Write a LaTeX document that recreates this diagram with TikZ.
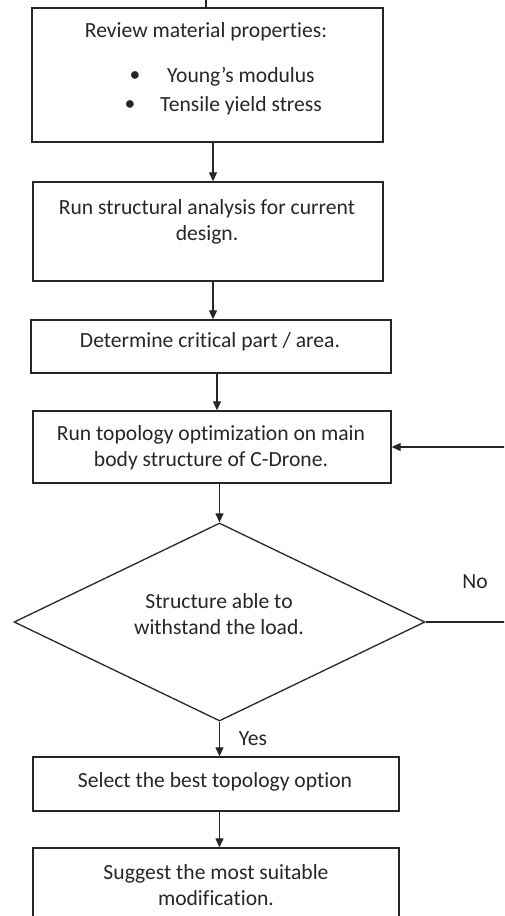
\documentclass[tikz,border=0pt]{standalone}
\usepackage{fontspec}
\setmainfont{Carlito}[Ligatures=NoCommon]
\usetikzlibrary{arrows.meta,shapes.geometric}
\begin{document}
\begin{tikzpicture}[x=1pt,y=-1pt,
  box/.style={draw=black!85,line width=1.4pt,rectangle,inner sep=0pt},
  dia/.style={draw=black!85,line width=1.3pt,diamond,inner sep=0pt,aspect=2.07},
  txt/.style={text=black!85,font=\fontsize{21.6}{26}\selectfont,align=center,inner sep=0pt},
  arr/.style={draw=black!85,line width=1.3pt,-{Triangle[length=9pt,width=8pt]}},
  ln/.style={draw=black!85,line width=1.3pt}]
\useasboundingbox (0,0) rectangle (504,916);
\clip (0,0) rectangle (504,916);
% boxes
\node[box,minimum width=351pt,minimum height=134pt] (b1) at (207.5,75) {};
\node[box,minimum width=350pt,minimum height=99pt] (b2) at (208,231.5) {};
\node[box,minimum width=360pt,minimum height=53pt] (b3) at (211,346.5) {};
\node[box,minimum width=358pt,minimum height=72pt] (b4) at (212,447) {};
\node[dia,minimum width=411pt,minimum height=198pt] (d) at (219.5,622) {};
\node[box,minimum width=366pt,minimum height=54pt] (b5) at (216,784) {};
\node[box,minimum width=366pt,minimum height=99pt] (b6) at (216,897.5) {};
% texts
\node[txt] (t1) at (206,32) {Review material properties:};
\node[txt] (bu1) at (135,77) {•};
\node[txt,anchor=west] (t1a) at (167,77) {Young’s modulus};
\node[txt] (bu2) at (130,106) {•};
\node[txt,anchor=west] (t1b) at (160,106) {Tensile yield stress};
\node[txt] (t2) at (207,222) {Run structural analysis for current\\design.};
\node[txt] (t3) at (210,342) {Determine critical part / area.};
\node[txt] (t4) at (211,448) {Run topology optimization on main\\body structure of C-Drone.};
\node[txt] (t5) at (219,614) {Structure able to\\withstand the load.};
\node[txt] (t6) at (215,782) {Select the best topology option};
\node[txt] (t7) at (216,885) {Suggest the most suitable\\modification.};
\node[txt] (no) at (475,582) {No};
\node[txt] (yes) at (253,739) {Yes};
% connector x positions
\coordinate (c0) at (206,0);
\coordinate (c1) at (213,0);
\coordinate (c2) at (217,0);
\coordinate (loop) at (530,0);
% connectors
\draw[ln] (c0) -- (b1.north -| c0);
\draw[arr] (b1.south -| c1) -- (b2.north -| c1);
\draw[arr] (b2.south -| c1) -- (b3.north -| c1);
\draw[arr] (b3.south -| c2) -- (b4.north -| c2);
\draw[arr] (b4.south -| d.north) -- (d.north);
\draw[arr] (d.south) -- (b5.north -| d.south);
\draw[arr] (b5.south -| d.south) -- (b6.north -| d.south);
\draw[arr] (d.east) -- (d.east -| loop) |- (b4.east);
\end{tikzpicture}
\end{document}
